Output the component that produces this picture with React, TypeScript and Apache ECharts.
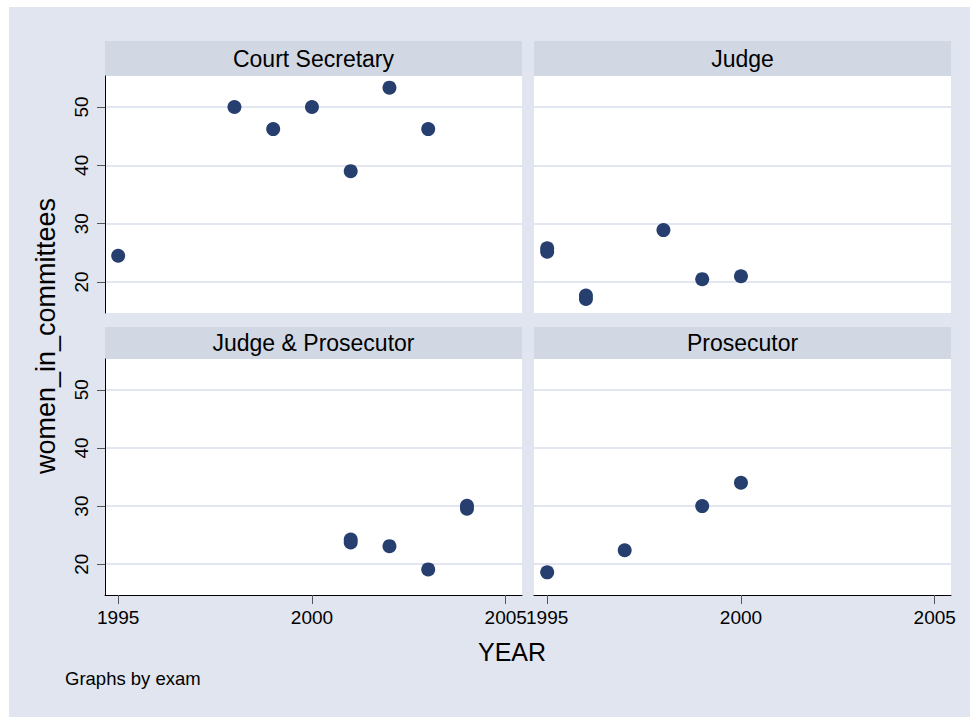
import React, { useEffect, useRef } from 'react';
import * as echarts from 'echarts';

const panelTitles = ['Court Secretary', 'Judge', 'Judge & Prosecutor', 'Prosecutor'];

const courtYears = [1995, 1998, 1999, 2000, 2001, 2002, 2003];
const courtVals = [24.5, 50, 46.2, 50, 39, 53.3, 46.2];

const judgeYears = [1995, 1995, 1996, 1996, 1998, 1999, 2000];
const judgeVals = [25.2, 25.8, 17.1, 17.7, 28.9, 20.5, 21.0];

const jpYears = [2001, 2001, 2002, 2003, 2004, 2004];
const jpVals = [23.75, 24.25, 23.1, 19.1, 29.55, 30.05];

const prosYears = [1995, 1997, 1999, 2000];
const prosVals = [18.6, 22.4, 30, 34];

const yTicks = [20, 30, 40, 50];
const xTicks = [1995, 2000, 2005];
const yTitle = 'women_in_committees';
const xTitle = 'YEAR';
const noteText = 'Graphs by exam';

const FONT = 'Liberation Sans, Arial, sans-serif';
const BG = '#e0e5ef';
const STRIP = '#d1d8e3';
const GRIDLINE = '#e1e6f0';
const MARK = '#263f6f';

export default function App() {
  const ref = useRef<HTMLDivElement>(null);
  useEffect(() => {
    const chart = echarts.init(ref.current!, null, { renderer: 'svg' });
    const grids = [
      { left: 96, top: 69, width: 417, height: 237 },
      { left: 525, top: 69, width: 417, height: 237 },
      { left: 96, top: 352, width: 417, height: 236 },
      { left: 525, top: 352, width: 417, height: 236 },
    ];
    const strips = [
      { x: 96, y: 34, w: 417, h: 35 },
      { x: 525, y: 34, w: 417, h: 35 },
      { x: 96, y: 320, w: 417, h: 32 },
      { x: 525, y: 320, w: 417, h: 32 },
    ];
    const datasets = [
      courtYears.map((y, i) => [y, courtVals[i]]),
      judgeYears.map((y, i) => [y, judgeVals[i]]),
      jpYears.map((y, i) => [y, jpVals[i]]),
      prosYears.map((y, i) => [y, prosVals[i]]),
    ];

    const xAxes = grids.map((_, i) => {
      const bottom = i >= 2;
      return {
        type: 'value',
        gridIndex: i,
        min: 1994.66,
        max: 2005.42,
        show: bottom,
        axisLine: { show: bottom, onZero: false, lineStyle: { color: '#000', width: 1 } },
        axisTick: {
          show: bottom,
          length: 9,
          customValues: xTicks,
          lineStyle: { color: '#555', width: 1 },
        },
        axisLabel: {
          show: bottom,
          customValues: xTicks,
          formatter: (v: number) => String(v),
          fontSize: 19,
          color: '#000',
          margin: 13,
          fontFamily: FONT,
        },
        splitLine: { show: false },
      };
    });

    const yAxes = grids.map((_, i) => {
      const left = i % 2 === 0;
      return {
        type: 'value',
        gridIndex: i,
        min: 14.7,
        max: 55.3,
        axisLine: { show: left, onZero: false, lineStyle: { color: '#000', width: 1 } },
        axisTick: {
          show: left,
          length: 8,
          customValues: yTicks,
          lineStyle: { color: '#555', width: 1 },
        },
        axisLabel: {
          show: left,
          customValues: yTicks,
          formatter: (v: number) => String(v),
          rotate: 90,
          fontSize: 19,
          color: '#000',
          margin: 14,
          fontFamily: FONT,
        },
        splitLine: { show: true, lineStyle: { color: GRIDLINE, width: 2 } },
      };
    });

    const series = datasets.map((d, i) => ({
      type: 'scatter',
      xAxisIndex: i,
      yAxisIndex: i,
      data: d,
      symbol: 'circle',
      symbolSize: 14,
      itemStyle: { color: MARK, opacity: 1 },
      emphasis: { disabled: true },
    }));

    const graphics: any[] = [];
    strips.forEach((s, i) => {
      graphics.push({
        type: 'rect',
        shape: { x: s.x, y: s.y, width: s.w, height: s.h },
        style: { fill: STRIP },
        silent: true,
      });
      graphics.push({
        type: 'text',
        x: s.x + s.w / 2,
        y: s.y + s.h / 2,
        style: {
          text: panelTitles[i],
          fontSize: 23,
          fontFamily: FONT,
          fill: '#000',
          textAlign: 'center',
          textVerticalAlign: 'middle',
        },
        silent: true,
      });
    });
    graphics.push({
      type: 'text',
      x: 37,
      y: 329,
      rotation: Math.PI / 2,
      style: {
        text: yTitle,
        fontSize: 27,
        fontFamily: FONT,
        fill: '#000',
        textAlign: 'center',
        textVerticalAlign: 'middle',
      },
      silent: true,
    });
    graphics.push({
      type: 'text',
      x: 503,
      y: 645,
      style: {
        text: xTitle,
        fontSize: 25,
        fontFamily: FONT,
        fill: '#000',
        textAlign: 'center',
        textVerticalAlign: 'middle',
      },
      silent: true,
    });
    graphics.push({
      type: 'text',
      x: 56,
      y: 671,
      style: {
        text: noteText,
        fontSize: 18.5,
        fontFamily: FONT,
        fill: '#000',
        textAlign: 'left',
        textVerticalAlign: 'middle',
      },
      silent: true,
    });

    chart.setOption({
      animation: false,
      backgroundColor: BG,
      grid: grids.map((g) => ({ ...g, show: true, backgroundColor: '#fff', borderWidth: 0, containLabel: false })),
      xAxis: xAxes,
      yAxis: yAxes,
      series,
      graphic: graphics,
    });
    return () => chart.dispose();
  }, []);
  return (
    <div
      ref={ref}
      style={{ position: 'fixed', left: 9, top: 7, width: 961, height: 710 }}
    />
  );
}
